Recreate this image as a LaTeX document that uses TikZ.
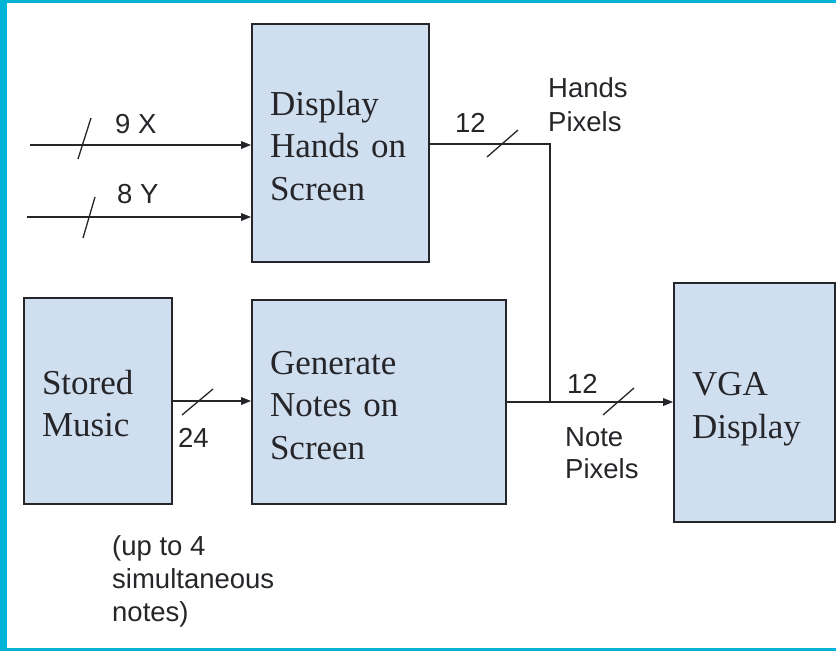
\documentclass[tikz,border=0pt]{standalone}
\usepackage{fontspec}
\setmainfont{Liberation Serif}
\setsansfont{Liberation Sans}
\usetikzlibrary{arrows.meta}
\definecolor{boxfill}{RGB}{207,223,240}
\definecolor{edgecyan}{RGB}{0,180,216}
\definecolor{ink}{RGB}{38,38,42}
% struts that balance the first and last lines inside the blocks
\newcommand{\topstrut}{\rule{0pt}{37pt}}
\newcommand{\botstrut}{\rule[-8pt]{0pt}{8pt}}
\begin{document}
\begin{tikzpicture}[x=1pt,y=-1pt,
  block/.style={draw=ink, line width=1.6pt, fill=boxfill, inner xsep=18pt, inner ysep=0pt,
    align=left, text=ink, font={\fontsize{35}{42.5}\selectfont}},
  wire/.style={draw=ink, line width=1.5pt},
  arrowed/.style={-{Triangle[length=10pt,width=7.5pt]}},
  busmark/.style={draw=ink, line width=1.3pt},
  lbl/.style={anchor=base west, inner sep=0pt, text=ink,
    font={\sffamily\fontsize{27.5}{33}\selectfont}}]

% page and coloured frame
\useasboundingbox (0,0) rectangle (836,651);
\fill[white] (0,0) rectangle (836,651);
\fill[edgecyan] (0,0) rectangle (7,651);
\fill[edgecyan] (0,0) rectangle (836,3);
\fill[edgecyan] (0,648) rectangle (836,651);

% blocks
\node[block, minimum width=177pt, minimum height=238pt, text width=141pt] (hands) at (340.5,143)
  {\topstrut Display\\Hands on\\Screen\botstrut};
\node[block, minimum width=148pt, minimum height=206pt, text width=112pt] (stored) at (98,401)
  {\topstrut Stored\\Music\botstrut};
\node[block, minimum width=254pt, minimum height=204pt, text width=218pt] (notes) at (379,402)
  {\topstrut Generate\\Notes on\\Screen\botstrut};
\node[block, minimum width=161pt, minimum height=239pt, text width=125pt] (vga) at (754.5,402.5)
  {\topstrut VGA\\Display\botstrut};

% free ends and bends
\coordinate (xin) at (30,145);
\coordinate (yin) at (27,217);
\coordinate (hbend) at (550,144);

% connectors
\draw[wire, arrowed] (xin) -- (xin -| hands.west);
\draw[wire, arrowed] (yin) -- (yin -| hands.west);
\draw[wire] (hbend -| hands.east) -- (hbend) -- (hbend |- notes.east);
\draw[wire, arrowed] (stored.east) -- (stored.east -| notes.west);
\draw[wire, arrowed] (notes.east) -- (notes.east -| vga.west);

% bus width marks
\draw[busmark] (78,159) -- (91,118);
\draw[busmark] (83,238) -- (95,197);
\draw[busmark] (487,157) -- (518,130);
\draw[busmark] (182,415) -- (213,389);
\draw[busmark] (603,415) -- (634,388);

% labels
\node[lbl] (lx) at (115,133.5) {9 X};
\node[lbl] (ly) at (117,203) {8 Y};
\node[lbl] (lh12) at (455,132) {12};
\node[lbl] (lhands) at (548,97) {Hands};
\node[lbl] (lhpix) at (548,131) {Pixels};
\node[lbl] (l24) at (178,447) {24};
\node[lbl] (ln12) at (567,393.5) {12};
\node[lbl] (lnote) at (565,446.5) {Note};
\node[lbl] (lnpix) at (565,478) {Pixels};
\node[lbl] (lup) at (112,555) {(up to 4};
\node[lbl] (lsim) at (112,588.5) {simultaneous};
\node[lbl] (lnotes) at (112,621.5) {notes)};
\end{tikzpicture}
\end{document}
